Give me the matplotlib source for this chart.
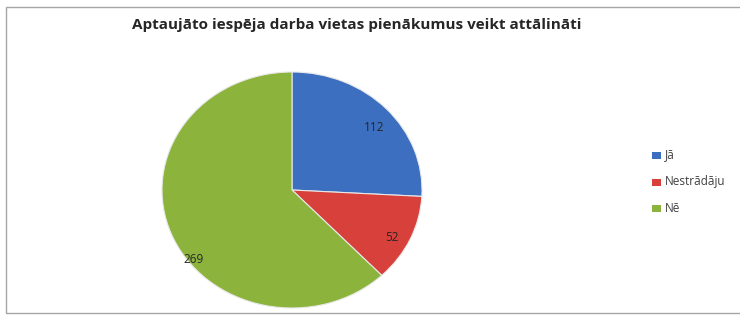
import numpy as np
import matplotlib
matplotlib.use("Agg")
import matplotlib.pyplot as plt
from matplotlib.patches import Rectangle

title = "Aptaujāto iespēja darba vietas pienākumus veikt attālināti"
labels = ["Jā", "Nestrādāju", "Nē"]
values = [112, 52, 269]
colors = ["#3c6fbf", "#d8403c", "#8cb43c"]

# label placement (radius, angle shift in degrees) per slice
lab_r = [0.82, 0.87, 0.96]
lab_shift = [-3.5, -3.0, 16.0]

plt.rcParams["font.family"] = ["Open Sans", "DejaVu Sans"]

fig = plt.figure(figsize=(7.4, 3.17), dpi=100)
W, H = 740, 317

# chart frame (right side runs off the picture)
fig.patches.append(Rectangle((6 / W, 4 / H), 1.2, (310 - 4) / H,
                             transform=fig.transFigure, fill=False,
                             edgecolor="#a6a6a6", lw=1.0))

ax = fig.add_axes([162 / W, 9 / H, 260 / W, 236 / H])
wedges, _ = ax.pie(values, colors=colors, startangle=90, counterclock=False,
                   wedgeprops=dict(edgecolor="#e8e8e8", linewidth=0.8))
ax.set_aspect("auto")
ax.set_xlim(-1, 1)
ax.set_ylim(-1, 1)
ax.axis("off")

for w, v, r, s in zip(wedges, values, lab_r, lab_shift):
    a = np.deg2rad((w.theta1 + w.theta2) / 2 + s)
    ax.text(r * np.cos(a), r * np.sin(a), str(v), ha="center", va="center",
            fontsize=8.5, color="#262626")

fig.text(357 / W, 1 - 25 / H, title, ha="center", va="center",
         fontsize=11, fontweight="bold", color="#262626")

ys = [155, 182, 208]
for lab, c, y in zip(labels, colors, ys):
    fig.patches.append(Rectangle((652 / W, 1 - (y + 3.5) / H), 9 / W, 7 / H,
                                 transform=fig.transFigure, facecolor=c,
                                 edgecolor="none"))
    fig.text(665 / W, 1 - y / H, lab, ha="left", va="center",
             fontsize=8.5, color="#404040")

fig.savefig("out.png", dpi=100)
